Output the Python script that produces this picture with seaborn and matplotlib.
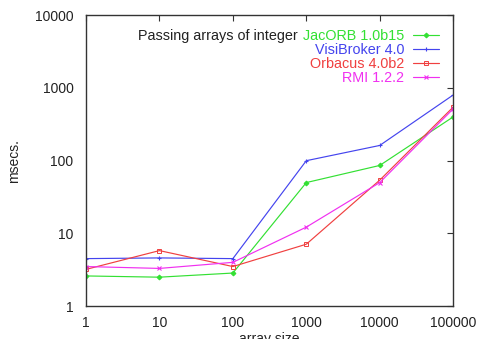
import matplotlib
matplotlib.use("Agg")
import matplotlib.pyplot as plt
import seaborn as sns
import pandas as pd
from matplotlib.ticker import NullLocator

# data
sizes = [1, 10, 100, 1000, 10000, 100000]
size_labels = ["1", "10", "100", "1000", "10000", "100000"]
jacorb = [2.6, 2.5, 2.85, 50, 86, 400]
visibroker = [4.5, 4.6, 4.5, 100, 162, 800]
orbacus = [3.2, 5.8, 3.5, 7.1, 54, 545]
rmi = [3.5, 3.3, 4.0, 12.2, 50, 515]
series_names = ["JacORB 1.0b15", "VisiBroker 4.0", "Orbacus 4.0b2", "RMI 1.2.2"]
yticks = [1, 10, 100, 1000, 10000]
ytick_labels = ["1", "10", "100", "1000", "10000"]

colors = ["#33e033", "#4444ee", "#f04040", "#f030f0"]
markers = ["D", "+", "s", "x"]

sns.set_style("white")
plt.rcParams["font.family"] = ["Liberation Sans", "DejaVu Sans"]
plt.rcParams["font.size"] = 10

fig = plt.figure(figsize=(4.78, 3.39), dpi=100)
ax = fig.add_axes([0.18, 0.097, 0.768, 0.858])

for name, vals, c, m in zip(series_names, [jacorb, visibroker, orbacus, rmi],
                            colors, markers):
    d = pd.DataFrame({"size": sizes, "msecs": vals})
    kw = dict(markersize=3.2, markeredgewidth=0.8, markeredgecolor=c)
    if m == "s":
        kw.update(markerfacecolor="none", markersize=3.2, markeredgewidth=0.7)
    if m == "D":
        kw.update(markersize=2.4)
    sns.lineplot(data=d, x="size", y="msecs", color=c, marker=m,
                 linewidth=0.85, label=name, ax=ax, **kw)

ax.set_xscale("log")
ax.set_yscale("log")
ax.set_xlim(1, 100000)
ax.set_ylim(1, 10000)
ax.set_xticks(sizes)
ax.set_xticklabels(size_labels)
ax.set_yticks(yticks)
ax.set_yticklabels(ytick_labels)
ax.xaxis.set_minor_locator(NullLocator())
ax.yaxis.set_minor_locator(NullLocator())
ax.tick_params(direction="in", length=4, width=0.8, colors="#333333",
               top=True, right=True, labelsize=10, labelcolor="#222222")
ax.tick_params(axis="x", pad=7)
ax.tick_params(axis="y", pad=9)
for sp in ax.spines.values():
    sp.set_color("#333333")
    sp.set_linewidth(1.0)

ax.set_xlabel("array size", fontsize=10, color="#222222", labelpad=1.5)
ax.set_ylabel("msecs.", fontsize=10, color="#222222", labelpad=10)

handles, labels = ax.get_legend_handles_labels()
leg = ax.legend(handles, labels, loc="upper right", frameon=False,
                markerfirst=False, labelcolor="linecolor", fontsize=10.4,
                handlelength=1.8, handletextpad=0.65, labelspacing=0.0,
                borderaxespad=0.55, borderpad=0.4)
fig.canvas.draw()
first = leg.get_texts()[0]
bb = first.get_window_extent().transformed(ax.transAxes.inverted())
ax.text(bb.x0 - 0.013, (bb.y0 + bb.y1) / 2, "Passing arrays of integer",
        transform=ax.transAxes, ha="right", va="center", fontsize=10.4,
        color="#222222")

fig.savefig("out.png", dpi=100)
